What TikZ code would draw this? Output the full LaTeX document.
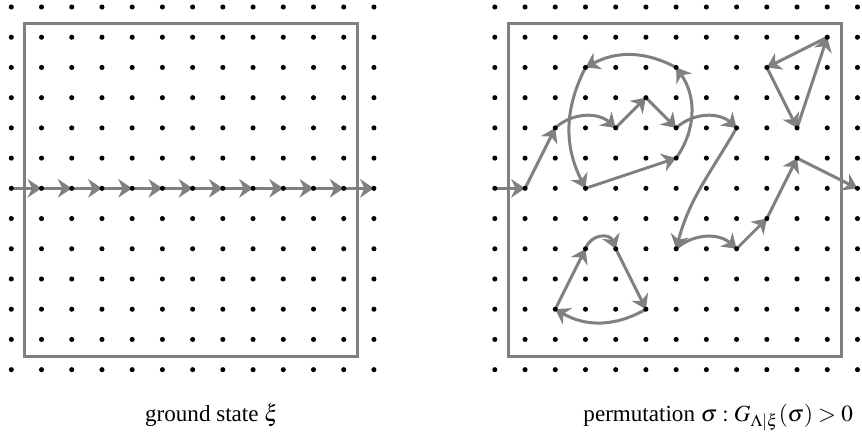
\documentclass[tikz,border=0pt]{standalone}
\usepackage{mathptmx}
\usepackage{fontspec}
\setmainfont{Liberation Serif}
\usetikzlibrary{arrows.meta}
\definecolor{pathgray}{HTML}{808080}
\pgfdeclarelayer{bg}
\pgfsetlayers{bg,main}

\begin{document}
\begin{tikzpicture}[x=0.46cm, y=0.46cm,
    pt/.style={circle, fill=black, inner sep=0pt, minimum size=2.2pt},
    hop/.style={pathgray, line width=1.3pt,
                -{Stealth[length=6pt, width=8pt, inset=1.9pt]}},
    frame/.style={pathgray, line width=1.3pt},
    lab/.style={anchor=base, font=\normalsize}]
    \useasboundingbox (-0.374,-2.217) rectangle (28.15,12.232);
    % lattice points of both panels
    \foreach \i in {0,...,12}
      \foreach \j in {0,...,12} {
        \node[pt] (L\i-\j) at (\i,\j) {};
        \node[pt] (R\i-\j) at (\i+16,\j) {};
      }
    \begin{pgfonlayer}{bg}
    % boxes
    \draw[frame] (0.43,0.43) rectangle (11.44,11.44);
    \draw[frame] (16.44,0.43) rectangle (27.46,11.44);
    % ground state: one straight line
    \foreach \i [count=\k] in {0,...,11}
      \draw[hop] (L\i-6.center) -- (L\k-6.center);
    % permutation: open path
    \draw[hop] (R0-6.center) -- (R1-6.center);
    \draw[hop] (R1-6.center) -- (R2-8.center);
    \draw[hop] (R2-8.center) to[bend left=42] (R4-8.center);
    \draw[hop] (R4-8.center) -- (R5-9.center);
    \draw[hop] (R5-9.center) -- (R6-8.center);
    \draw[hop] (R6-8.center) to[bend left=42] (R8-8.center);
    \draw[hop] (R8-8.center) to[out=-120, in=75] (R6-4.center);
    \draw[hop] (R6-4.center) to[bend left=42] (R8-4.center);
    \draw[hop] (R8-4.center) -- (R9-5.center);
    \draw[hop] (R9-5.center) -- (R10-7.center);
    \draw[hop] (R10-7.center) -- (R12-6.center);
    % cycle upper left
    \draw[hop] (R3-6.center) -- (R6-7.center);
    \draw[hop] (R6-7.center) to[bend right=35] (R6-10.center);
    \draw[hop] (R6-10.center) to[bend right=28] (R3-10.center);
    \draw[hop] (R3-10.center) to[bend right=27] (R3-6.center);
    % triangle
    \draw[hop] (R11-11.center) -- (R9-10.center);
    \draw[hop] (R9-10.center) -- (R10-8.center);
    \draw[hop] (R10-8.center) -- (R11-11.center);
    % cycle lower left
    \draw[hop] (R2-2.center) -- (R3-4.center);
    \draw[hop] (R3-4.center) to[out=70, in=110, looseness=1.4] (R4-4.center);
    \draw[hop] (R4-4.center) -- (R5-2.center);
    \draw[hop] (R5-2.center) to[bend left=30] (R2-2.center);
    \end{pgfonlayer}
    % captions
    \node[lab] (capL) at (6.64,-1.70) {ground state $\xi$};
    \node[lab] (capR) at (23.39,-1.70) {permutation $\sigma : G_{\Lambda|\xi}(\sigma) > 0$};
\end{tikzpicture}
\end{document}
